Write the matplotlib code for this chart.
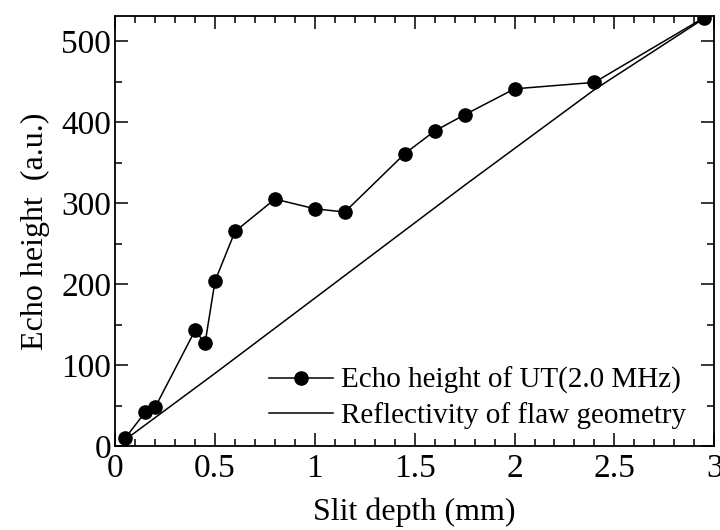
import matplotlib
matplotlib.use("Agg")
import matplotlib.pyplot as plt
from matplotlib.ticker import MultipleLocator

# Echo height measured by UT (2.0 MHz)
depth = [0.05, 0.15, 0.2, 0.4, 0.45, 0.5, 0.6, 0.8, 1.0, 1.15,
         1.45, 1.6, 1.75, 2.0, 2.4, 2.95]
echo = [10, 42, 48, 143, 127, 204, 265, 305, 293, 289,
        361, 389, 409, 441, 449, 529]

# Reflectivity of flaw geometry
refl_depth = [0.05, 0.5, 1.75, 2.4, 2.95]
refl = [8, 90, 322, 440, 528]

plt.rcParams["font.family"] = ["Liberation Serif", "DejaVu Serif"]

fig = plt.figure(figsize=(7.2, 5.3), dpi=100)
ax = fig.add_axes([0.16, 0.158, 0.832, 0.812])

ax.plot(depth, echo, color="black", lw=1.1, marker="o", ms=9.5,
        label="Echo height of UT(2.0 MHz)")
ax.plot(refl_depth, refl, color="black", lw=1.1,
        label="Reflectivity of flaw geometry")

ax.set_xlim(0, 3)
ax.set_ylim(0, 531)
ax.xaxis.set_major_locator(MultipleLocator(0.5))
ax.xaxis.set_minor_locator(MultipleLocator(0.1))
ax.yaxis.set_major_locator(MultipleLocator(100))
ax.yaxis.set_minor_locator(MultipleLocator(50))
ax.set_xticks([0, 0.5, 1, 1.5, 2, 2.5, 3])
ax.set_xticklabels(["0", "0.5", "1", "1.5", "2", "2.5", "3"])

ax.tick_params(which="both", direction="in", top=True, right=True,
               labelsize=24, width=1.1)
ax.tick_params(which="major", length=9.5, pad=3)
ax.tick_params(axis="x", which="major", pad=5)
ax.tick_params(which="minor", length=5)
for s in ax.spines.values():
    s.set_linewidth(1.3)

ax.set_xlabel("Slit depth (mm)", fontsize=23, labelpad=10)
ax.set_ylabel("Echo height  (a.u.)", fontsize=23, labelpad=8)

ax.legend(loc="lower right", frameon=False, fontsize=21,
          handlelength=2.2, handletextpad=0.3, labelspacing=0.25,
          bbox_to_anchor=(0.983, 0.0), borderaxespad=0.2)

fig.savefig("out.png", dpi=100)
